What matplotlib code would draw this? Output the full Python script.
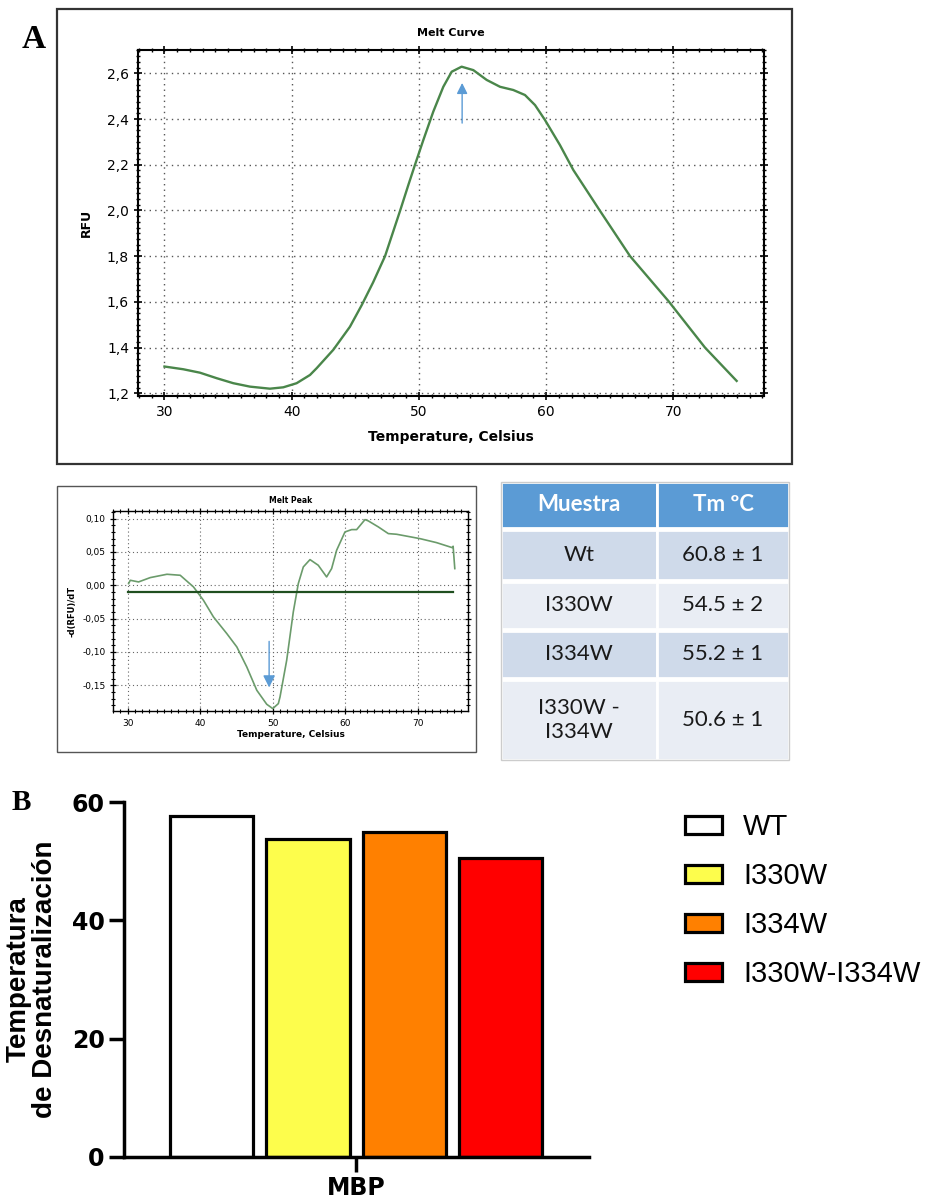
import matplotlib
matplotlib.use("Agg")
import matplotlib.pyplot as plt
from matplotlib.patches import Rectangle
from matplotlib.ticker import MultipleLocator, FuncFormatter

W, H = 926, 1200

# melt curve, RFU against temperature
curve_t = [30.0, 31.48, 32.79, 34.10, 35.41, 36.72, 38.29, 39.34, 40.39, 41.44,
           41.97, 43.27, 44.58, 45.50, 46.40, 47.34, 48.52, 49.17, 49.69, 50.35,
           51.13, 51.92, 52.58, 53.36, 54.28, 55.33, 56.38, 57.42, 58.34, 59.13,
           59.91, 61.09, 62.14, 64.24, 66.60, 69.61, 72.49, 74.98]
curve_rfu = [1.317, 1.305, 1.290, 1.266, 1.244, 1.229, 1.220, 1.226, 1.244, 1.280,
             1.310, 1.390, 1.491, 1.585, 1.685, 1.800, 1.998, 2.111, 2.199, 2.308,
             2.432, 2.541, 2.607, 2.629, 2.614, 2.571, 2.541, 2.527, 2.505, 2.461,
             2.396, 2.286, 2.177, 1.998, 1.800, 1.604, 1.400, 1.254]

# melt peak, -d(RFU)/dT
peak_t = [30.14, 30.37, 31.51, 33.12, 35.42, 37.25, 39.08, 40.45, 41.83, 43.67,
          45.05, 46.42, 47.80, 49.17, 50.0, 50.77, 51.0, 51.92, 52.83, 53.52,
          54.21, 55.13, 56.27, 57.42, 58.11, 58.80, 59.95, 60.87, 61.56, 62.71,
          63.17, 64.55, 65.92, 67.07, 70.26, 72.55, 74.71, 74.85, 75.08]
peak_d = [0.0025, 0.0075, 0.005, 0.0115, 0.0165, 0.015, -0.0025, -0.0225, -0.0475, -0.0725,
          -0.0925, -0.1225, -0.1575, -0.1785, -0.185, -0.1775, -0.1675, -0.1125, -0.0400, 0.0025,
          0.0275, 0.0385, 0.030, 0.0125, 0.025, 0.0525, 0.080, 0.0835, 0.0835, 0.0985,
          0.0965, 0.0875, 0.0775, 0.0765, 0.070, 0.064, 0.0565, 0.0585, 0.025]
peak_threshold = -0.0105

# Tm table
tabla_cols = ["Muestra", "Tm ºC"]
muestras = ["Wt", "I330W", "I334W", "I330W -\nI334W"]
tm_texto = ["60.8 ± 1", "54.5 ± 2", "55.2 ± 1", "50.6 ± 1"]

# bar chart
grupos = ["WT", "I330W", "I334W", "I330W-I334W"]
temp_desnat = [57.7, 53.8, 55.0, 50.5]
colores = ["white", "#fdfd4c", "#ff8000", "#ff0000"]

fig = plt.figure(figsize=(W / 100, H / 100), dpi=100)


def px_axes(l, t, r, b):
    return fig.add_axes([l / W, 1 - b / H, (r - l) / W, (b - t) / H])


def px_box(l, t, r, b, **kw):
    fig.add_artist(Rectangle((l / W, 1 - b / H), (r - l) / W, (b - t) / H,
                             transform=fig.transFigure, fill=False, **kw))


def comma(fmt):
    return FuncFormatter(lambda v, p: (fmt % v).replace(".", ","))


green = "#4a864a"
blue = "#5b9bd5"

# ---- A: melt curve
px_box(57, 9, 792, 464, edgecolor="#333333", linewidth=1.6)
fig.text(22 / W, 1 - 40 / H, "A", family="Liberation Serif", weight="bold",
         fontsize=24, va="center")

ax1 = px_axes(138, 50, 764, 396)
ax1.plot(curve_t, curve_rfu, color=green, lw=1.7)
ax1.annotate("", xy=(53.4, 2.57), xytext=(53.4, 2.37),
             arrowprops=dict(arrowstyle="-|>", color=blue, lw=1.0,
                             mutation_scale=16))
ax1.set_xlim(27.92, 77.13)
ax1.set_ylim(1.188, 2.702)
ax1.xaxis.set_major_locator(MultipleLocator(10))
ax1.xaxis.set_minor_locator(MultipleLocator(1))
ax1.yaxis.set_major_locator(MultipleLocator(0.2))
ax1.yaxis.set_minor_locator(MultipleLocator(0.025))
ax1.yaxis.set_major_formatter(comma("%.1f"))
ax1.grid(True, which="major", linestyle=(0, (1, 3)), color="#555555", lw=1.0)
ax1.tick_params(which="both", direction="inout", top=True, right=True,
                labelsize=10, color="black")
ax1.tick_params(which="major", length=6, width=1.2)
ax1.tick_params(which="minor", length=3.5, width=1.0)
for s in ax1.spines.values():
    s.set_linewidth(1.5)
ax1.set_title("Melt Curve", fontsize=8, weight="bold", pad=10)
ax1.set_xlabel("Temperature, Celsius", fontsize=10, weight="bold", labelpad=8)
ax1.set_ylabel("RFU", fontsize=9, weight="bold", labelpad=10)

# ---- melt peak
px_box(57, 486, 476, 752, edgecolor="#555555", linewidth=1.0)
ax2 = px_axes(113, 511, 468, 711)
ax2.plot(peak_t, peak_d, color="#6b9b6b", lw=1.2)
ax2.plot([30.1, 74.9], [peak_threshold, peak_threshold], color="#1f4f1f", lw=1.6)
ax2.annotate("", xy=(49.5, -0.1575), xytext=(49.5, -0.08),
             arrowprops=dict(arrowstyle="-|>", color=blue, lw=1.0,
                             mutation_scale=18))
ax2.set_xlim(27.99, 76.9)
ax2.set_ylim(-0.1886, 0.1114)
ax2.xaxis.set_major_locator(MultipleLocator(10))
ax2.xaxis.set_minor_locator(MultipleLocator(1))
ax2.yaxis.set_major_locator(MultipleLocator(0.05))
ax2.yaxis.set_minor_locator(MultipleLocator(0.01))
ax2.yaxis.set_major_formatter(comma("%.2f"))
ax2.grid(True, which="major", linestyle=(0, (1, 2.5)), color="#666666", lw=0.8)
ax2.tick_params(which="both", direction="inout", top=True, right=True,
                labelsize=6.5, color="black")
ax2.tick_params(which="major", length=4, width=0.9)
ax2.tick_params(which="minor", length=2.5, width=0.8)
for s in ax2.spines.values():
    s.set_linewidth(1.0)
ax2.set_title("Melt Peak", fontsize=5.5, weight="bold", pad=6)
ax2.set_xlabel("Temperature, Celsius", fontsize=6.5, weight="bold", labelpad=2)
ax2.set_ylabel("-d(RFU)/dT", fontsize=6, weight="bold", labelpad=4)

# ---- Tm table
axt = px_axes(501, 482, 789, 760)
axt.set_xlim(0, 288)
axt.set_ylim(278, 0)
axt.axis("off")
col_x = [0, 156, 288]
row_y = [0, 46, 98, 147, 196, 278]
tab_font = ["Lato", "DejaVu Sans"]
for j in range(2):
    axt.add_patch(Rectangle((col_x[j], row_y[0]), col_x[j + 1] - col_x[j],
                            row_y[1] - row_y[0], facecolor=blue,
                            edgecolor="white", lw=2))
    axt.text((col_x[j] + col_x[j + 1]) / 2, (row_y[0] + row_y[1]) / 2,
             tabla_cols[j], color="white", weight="bold", fontsize=16,
             family=tab_font, ha="center", va="center")
for i, (m, t) in enumerate(zip(muestras, tm_texto)):
    fc = "#cfdaea" if i % 2 == 0 else "#e9edf4"
    for j, txt in enumerate([m, t]):
        axt.add_patch(Rectangle((col_x[j], row_y[i + 1] + 2),
                                col_x[j + 1] - col_x[j],
                                row_y[i + 2] - row_y[i + 1] - 2,
                                facecolor=fc, edgecolor="white", lw=2))
        axt.text((col_x[j] + col_x[j + 1]) / 2,
                 (row_y[i + 1] + row_y[i + 2]) / 2 + 1, txt,
                 color="#1a1a1a", fontsize=16, family=tab_font,
                 ha="center", va="center", linespacing=1.25)
axt.add_patch(Rectangle((0, 0), 288, 278, fill=False,
                        edgecolor="#cccccc", lw=1, clip_on=False))

# ---- B: bar chart
fig.text(12 / W, 1 - 803 / H, "B", family="Liberation Serif", weight="bold",
         fontsize=21, va="center")
ax3 = px_axes(124, 802, 589, 1157)
pos = range(len(grupos))
bars = ax3.bar(pos, temp_desnat, width=0.865, color=colores,
               edgecolor="black", linewidth=2.3, label=grupos)
ax3.set_xlim(-0.911, 3.92)
ax3.set_ylim(0, 60)
ax3.set_yticks([0, 20, 40, 60])
ax3.set_xticks([1.5])
ax3.set_xticklabels(["MBP"])
for s in ["top", "right"]:
    ax3.spines[s].set_visible(False)
for s in ["left", "bottom"]:
    ax3.spines[s].set_linewidth(2.5)
ax3.tick_params(width=2.5, length=11, labelsize=17, pad=3)
for lab in ax3.get_xticklabels() + ax3.get_yticklabels():
    lab.set_weight("bold")
ax3.set_ylabel("Temperatura\nde Desnaturalización", fontsize=20,
               weight="bold", family="Liberation Sans", labelpad=10,
               linespacing=1.0)
ax3.legend(bars, grupos, loc="upper left", bbox_to_anchor=(659 / W, 1 - 787 / H),
           bbox_transform=fig.transFigure, frameon=False,
           prop={"family": "Liberation Sans", "size": 21},
           handlelength=1.27, handleheight=0.58, handletextpad=0.72,
           labelspacing=0.72)

fig.savefig("out.png", dpi=100, facecolor="white")
